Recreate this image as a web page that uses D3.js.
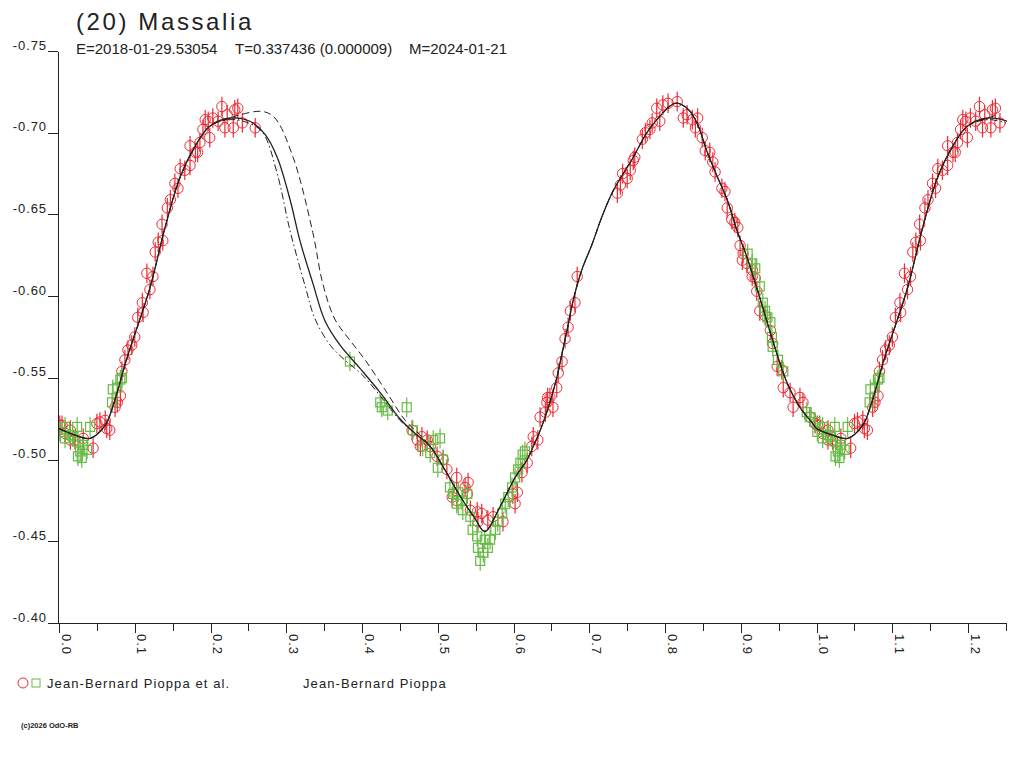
<!DOCTYPE html>
<html>
<head>
<meta charset="utf-8">
<script src="https://cdn.jsdelivr.net/npm/d3@7"></script>
<style>
body { margin: 0; background: #fff; }
text { font-family: "Liberation Sans", Arial, sans-serif; fill: #222; }
</style>
</head>
<body>
<svg width="1024" height="768"></svg>
<script>
var title = "(20) Massalia";
var subtitle = ["E=2018-01-29.53054", "T=0.337436 (0.000009)", "M=2024-01-21"];
var yTicks = [-0.75, -0.70, -0.65, -0.60, -0.55, -0.50, -0.45, -0.40];
var xTicks = [0, 0.05, 0.1, 0.15, 0.2, 0.25, 0.3, 0.35, 0.4, 0.45, 0.5, 0.55, 0.6, 0.65,
	0.7, 0.75, 0.8, 0.85, 0.9, 0.95, 1.0, 1.05, 1.1, 1.15, 1.2, 1.25];
var xLabels = [0, 0.1, 0.2, 0.3, 0.4, 0.5, 0.6, 0.7, 0.8, 0.9, 1.0, 1.1, 1.2];
var legendNames = ["Jean-Bernard Pioppa et al.", "Jean-Bernard Pioppa"];
var credit = "(c)2026 OdO-RB";

// model lightcurve, phase 0..1 : [phase, mag]
var modelMain = [
	[0.000,-0.519],[0.021,-0.515],[0.041,-0.513],[0.061,-0.521],[0.070,-0.531],[0.078,-0.543],
	[0.087,-0.558],[0.096,-0.571],[0.120,-0.605],[0.140,-0.642],[0.160,-0.673],[0.180,-0.692],
	[0.199,-0.704],[0.226,-0.709],[0.252,-0.707],[0.272,-0.699],[0.288,-0.685],[0.305,-0.659],
	[0.318,-0.634],[0.335,-0.608],[0.351,-0.585],[0.371,-0.570],[0.397,-0.556],[0.424,-0.541],
	[0.450,-0.525],[0.470,-0.516],[0.490,-0.508],[0.509,-0.494],[0.529,-0.478],[0.549,-0.464],
	[0.562,-0.456],[0.582,-0.471],[0.602,-0.489],[0.618,-0.500],[0.626,-0.508],[0.637,-0.520],
	[0.648,-0.535],[0.657,-0.550],[0.664,-0.565],[0.671,-0.580],[0.679,-0.598],[0.690,-0.616],
	[0.703,-0.631],[0.717,-0.649],[0.731,-0.664],[0.758,-0.685],[0.776,-0.700],[0.793,-0.710],
	[0.813,-0.718],[0.829,-0.715],[0.842,-0.706],[0.855,-0.689],[0.869,-0.673],[0.882,-0.659],
	[0.895,-0.640],[0.908,-0.624],[0.929,-0.593],[0.942,-0.573],[0.961,-0.547],[0.978,-0.532],
	[0.995,-0.522]
];
// period - sigma / period + sigma models, where they part from the main one
var modelEarlyMid = [
	[0.226,-0.708],[0.250,-0.706],[0.269,-0.700],[0.288,-0.675],[0.305,-0.640],[0.325,-0.606],
	[0.338,-0.586],[0.358,-0.570],[0.377,-0.561],[0.400,-0.552],[0.424,-0.539],[0.450,-0.524],
	[0.470,-0.516]
];
var modelLateMid = [
	[0.239,-0.711],[0.269,-0.713],[0.285,-0.709],[0.309,-0.685],[0.335,-0.639],[0.348,-0.608],
	[0.364,-0.586],[0.384,-0.573],[0.404,-0.561],[0.430,-0.543],[0.457,-0.524],[0.477,-0.515]
];

var redPoints = [
	[0.001,-0.521],[0.004,-0.521],[0.008,-0.516],[0.015,-0.518],[0.015,-0.512],[0.021,-0.512],
	[0.032,-0.513],[0.045,-0.507],[0.050,-0.522],[0.054,-0.523],[0.061,-0.524],[0.063,-0.519],
	[0.067,-0.518],[0.074,-0.532],[0.077,-0.535],[0.081,-0.539],[0.083,-0.554],[0.087,-0.561],
	[0.091,-0.567],[0.096,-0.570],[0.100,-0.575],[0.104,-0.587],[0.111,-0.590],[0.110,-0.596],
	[0.120,-0.604],[0.116,-0.614],[0.124,-0.612],[0.127,-0.627],[0.137,-0.634],[0.131,-0.633],
	[0.136,-0.644],[0.143,-0.654],[0.147,-0.659],[0.153,-0.669],[0.157,-0.666],[0.160,-0.678],
	[0.166,-0.677],[0.173,-0.680],[0.173,-0.692],[0.180,-0.688],[0.186,-0.694],[0.183,-0.688],
	[0.190,-0.702],[0.193,-0.708],[0.197,-0.707],[0.199,-0.697],[0.203,-0.709],[0.210,-0.707],
	[0.215,-0.716],[0.222,-0.711],[0.219,-0.703],[0.230,-0.703],[0.232,-0.714],[0.236,-0.715],
	[0.242,-0.706],[0.259,-0.703],
	[0.466,-0.518],[0.473,-0.512],[0.479,-0.514],[0.486,-0.512],[0.477,-0.508],[0.490,-0.508],
	[0.499,-0.502],[0.507,-0.500],[0.512,-0.494],[0.525,-0.489],[0.519,-0.477],[0.525,-0.475],
	[0.536,-0.483],[0.540,-0.486],[0.539,-0.479],[0.552,-0.468],[0.558,-0.467],[0.543,-0.469],
	[0.553,-0.462],[0.566,-0.463],[0.573,-0.465],[0.586,-0.462],[0.602,-0.473],[0.599,-0.479],
	[0.605,-0.480],[0.611,-0.492],[0.618,-0.498],[0.624,-0.508],[0.626,-0.514],[0.632,-0.512],
	[0.635,-0.526],[0.642,-0.529],[0.644,-0.535],[0.645,-0.538],
	[0.648,-0.538],[0.652,-0.532],[0.657,-0.544],[0.659,-0.553],[0.664,-0.560],[0.668,-0.574],
	[0.672,-0.581],[0.675,-0.591],[0.681,-0.596],[0.684,-0.612],
	[0.737,-0.663],[0.741,-0.668],[0.744,-0.675],[0.750,-0.672],[0.754,-0.677],[0.758,-0.683],
	[0.760,-0.685],[0.770,-0.696],[0.774,-0.700],[0.780,-0.702],[0.783,-0.706],[0.793,-0.707],
	[0.789,-0.715],[0.797,-0.717],[0.804,-0.718],[0.816,-0.719],[0.824,-0.709],[0.829,-0.711],
	[0.836,-0.708],[0.843,-0.709],[0.840,-0.703],[0.849,-0.697],[0.853,-0.689],[0.859,-0.688],
	[0.863,-0.682],[0.866,-0.676],[0.875,-0.666],[0.879,-0.664],[0.882,-0.654],[0.888,-0.647],
	[0.892,-0.645],[0.896,-0.642],[0.899,-0.631],[0.903,-0.626],[0.915,-0.616],[0.919,-0.611],
	[0.902,-0.622],[0.908,-0.620],[0.915,-0.612],[0.921,-0.603],[0.925,-0.591],[0.932,-0.588],
	[0.939,-0.579],[0.942,-0.571],[0.948,-0.557],[0.954,-0.555],[0.956,-0.544],[0.965,-0.541],
	[0.969,-0.532],[0.978,-0.538],[0.982,-0.535],[0.991,-0.526],[0.998,-0.522]
];

var greenPoints = [
	[0.001,-0.517],[0.008,-0.520],[0.008,-0.513],[0.015,-0.515],[0.018,-0.514],[0.024,-0.520],
	[0.025,-0.511],[0.028,-0.505],[0.025,-0.502],[0.032,-0.509],[0.037,-0.506],[0.041,-0.520],
	[0.030,-0.501],[0.070,-0.535],[0.071,-0.543],[0.077,-0.544],[0.081,-0.549],[0.083,-0.550],
	[0.384,-0.560],[0.424,-0.535],[0.426,-0.532],[0.434,-0.530],[0.459,-0.532],[0.467,-0.518],
	[0.480,-0.508],[0.494,-0.512],[0.503,-0.513],[0.490,-0.504],[0.500,-0.495],[0.507,-0.500],
	[0.516,-0.483],[0.520,-0.479],[0.527,-0.480],[0.532,-0.475],[0.539,-0.479],[0.525,-0.473],
	[0.533,-0.469],[0.543,-0.465],[0.546,-0.457],[0.552,-0.453],[0.553,-0.446],[0.556,-0.438],
	[0.560,-0.443],[0.562,-0.451],[0.566,-0.446],[0.569,-0.451],[0.576,-0.457],[0.579,-0.462],
	[0.585,-0.467],[0.589,-0.473],[0.593,-0.477],[0.598,-0.483],[0.602,-0.489],[0.606,-0.494],
	[0.609,-0.498],[0.612,-0.503],[0.615,-0.505],
	[0.909,-0.626],[0.915,-0.620],[0.919,-0.617],[0.925,-0.606],[0.929,-0.596],[0.932,-0.591],
	[0.935,-0.587],[0.939,-0.584],[0.941,-0.575],[0.942,-0.569],[0.949,-0.561],[0.956,-0.554],
	[0.987,-0.529],[0.991,-0.526],[0.998,-0.523]
];
var redErr = 0.006;
var greenErr = 0.006;

var svg = d3.select("svg");
var x = d3.scaleLinear().domain([0, 1.25]).range([59, 1006]);
var y = d3.scaleLinear().domain([-0.75, -0.40]).range([51, 623]);

// phase 0..0.25 is plotted a second time after phase 1
function wrap(arr) {
	return arr.concat(arr.filter(d => d[0] <= 0.26).map(d => [d[0] + 1, d[1]]));
}
function splice(mid) {
	var a = mid[0][0], b = mid[mid.length - 1][0];
	return modelMain.filter(d => d[0] < a).concat(mid, modelMain.filter(d => d[0] > b));
}

svg.append("text")
	.attr("x", 76).attr("y", 30)
	.style("font-size", "24px").style("letter-spacing", "2.6px")
	.text(title);

var subX = [76, 235, 409];
subtitle.forEach((s, i) => {
	svg.append("text")
		.attr("x", subX[i]).attr("y", 54)
		.style("font-size", "15px")
		.text(s);
});

// axes
var yAxis = svg.append("g")
	.attr("transform", "translate(58,0)")
	.call(d3.axisLeft(y).tickValues(yTicks).tickSize(10).tickSizeOuter(0).tickFormat(d => d.toFixed(2)));
yAxis.selectAll("text")
	.attr("x", -11).attr("dy", -2)
	.style("font-size", "13px").style("letter-spacing", "0.9px")
	.attr("fill", "#222");

var xAxis = svg.append("g")
	.attr("transform", "translate(0,623)")
	.call(d3.axisBottom(x).tickValues(xTicks).tickSizeOuter(0)
		.tickFormat(d => xLabels.some(v => Math.abs(v - d) < 1e-9) ? d.toFixed(1) : ""));
xAxis.selectAll(".tick line")
	.attr("y2", d => xLabels.some(v => Math.abs(v - d) < 1e-9) ? 10 : 8);
xAxis.selectAll("text")
	.attr("y", 0).attr("dy", 0)
	.attr("text-anchor", "start")
	.attr("transform", "translate(2,11) rotate(90)")
	.style("font-size", "13px").style("letter-spacing", "0.9px")
	.attr("fill", "#222");
svg.selectAll(".domain, .tick line").attr("stroke", "#222").attr("shape-rendering", "crispEdges");
xAxis.select(".domain").attr("d", "M58.5,0.5H1006.5");

svg.append("clipPath").attr("id", "plot")
	.append("rect").attr("x", 59).attr("y", 40).attr("width", 948).attr("height", 583);

// red circles
var red = svg.append("g").attr("clip-path", "url(#plot)");
var redAll = wrap(redPoints);
red.selectAll("line").data(redAll).enter().append("line")
	.attr("x1", d => x(d[0])).attr("x2", d => x(d[0]))
	.attr("y1", d => y(d[1] - redErr)).attr("y2", d => y(d[1] + redErr))
	.attr("stroke", "#ee2a33").attr("stroke-width", 1.2);
red.selectAll("circle").data(redAll).enter().append("circle")
	.attr("cx", d => x(d[0])).attr("cy", d => y(d[1])).attr("r", 5.2)
	.attr("fill", "none").attr("stroke", "#ee2a33").attr("stroke-width", 1);

// green squares
var green = svg.append("g").attr("clip-path", "url(#plot)");
var greenAll = wrap(greenPoints);
green.selectAll("line").data(greenAll).enter().append("line")
	.attr("x1", d => x(d[0])).attr("x2", d => x(d[0]))
	.attr("y1", d => y(d[1] - greenErr)).attr("y2", d => y(d[1] + greenErr))
	.attr("stroke", "#66bb44").attr("stroke-width", 1.2);
green.selectAll("rect").data(greenAll).enter().append("rect")
	.attr("x", d => x(d[0]) - 4.5).attr("y", d => y(d[1]) - 4.5)
	.attr("width", 9).attr("height", 9)
	.attr("fill", "none").attr("stroke", "#66bb44").attr("stroke-width", 1.2);

// model curves
var line = d3.line().x(d => x(d[0])).y(d => y(d[1])).curve(d3.curveCatmullRom.alpha(0.5));
var curves = svg.append("g").attr("clip-path", "url(#plot)").attr("fill", "none").attr("stroke", "#222");
curves.append("path").attr("d", line(wrap(splice(modelEarlyMid))))
	.attr("stroke-width", 1).attr("stroke-dasharray", "7,3,1.5,3");
curves.append("path").attr("d", line(wrap(splice(modelLateMid))))
	.attr("stroke-width", 1).attr("stroke-dasharray", "7,4");
curves.append("path").attr("d", line(wrap(modelMain)))
	.attr("stroke-width", 1.3);

// legend
svg.append("circle").attr("cx", 23).attr("cy", 683).attr("r", 5)
	.attr("fill", "none").attr("stroke", "#ee2a33").attr("stroke-width", 1);
svg.append("rect").attr("x", 32).attr("y", 679).attr("width", 8).attr("height", 8)
	.attr("fill", "none").attr("stroke", "#66bb44").attr("stroke-width", 1);
var legX = [47, 303];
legendNames.forEach((s, i) => {
	svg.append("text")
		.attr("x", legX[i]).attr("y", 688)
		.style("font-size", "13px").style("letter-spacing", "1.1px")
		.text(s);
});

svg.append("text")
	.attr("x", 21).attr("y", 728)
	.style("font-size", "7.5px").style("font-weight", "bold")
	.text(credit);
</script>
</body>
</html>
